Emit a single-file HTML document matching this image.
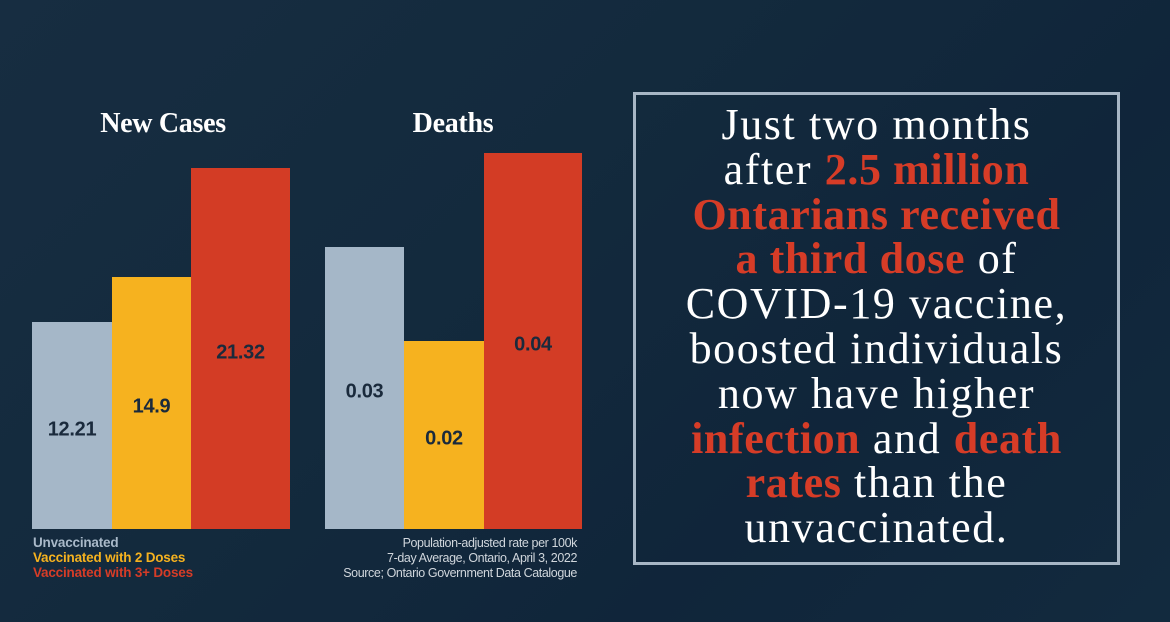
<!DOCTYPE html>
<html><head><meta charset="utf-8">
<style>
html,body{margin:0;padding:0}
body{width:1170px;height:622px;overflow:hidden;position:relative;
background:linear-gradient(135deg,#172d41 0%,#132a3d 40%,#10253a 70%,#122a3e 100%);
font-family:"Liberation Sans",sans-serif}
.title{position:absolute;top:108px;font-family:"Liberation Serif",serif;font-weight:bold;color:#fff;font-size:28px;text-align:center;width:260px;letter-spacing:-0.3px}
.lbl{position:absolute;font-weight:bold;color:#1a2a3c;font-size:20px;transform:translate(-50%,-50%);white-space:nowrap;letter-spacing:-0.3px}
.bar{position:absolute}
.legend{position:absolute;left:33px;top:535px;font-weight:bold;font-size:13.5px;line-height:15px;letter-spacing:-0.2px}
.note{position:absolute;right:593px;top:536px;color:#d0d6dc;font-size:12.5px;line-height:15px;text-align:right;letter-spacing:-0.4px}
.box{position:absolute;left:633px;top:92px;width:481px;height:467px;border:3px solid #a7b6c5;box-sizing:content-box}
.txt{position:absolute;left:636px;top:103px;width:481px;text-align:center;font-family:"Liberation Serif",serif;font-size:44px;line-height:44.8px;color:#fff;letter-spacing:1.6px;white-space:nowrap}
.r{color:#d63c27;font-weight:bold;letter-spacing:0.6px}
</style></head><body>
<div class="title" style="left:33px">New Cases</div>
<div class="title" style="left:323px">Deaths</div>
<div id="charts"></div>
<div class="legend">
<div style="color:#a9b9c9">Unvaccinated</div>
<div style="color:#f6b21f">Vaccinated with 2 Doses</div>
<div style="color:#d63c27">Vaccinated with 3+ Doses</div>
</div>
<div class="note">Population-adjusted rate per 100k<br>7-day Average, Ontario, April 3, 2022<br>Source; Ontario Government Data Catalogue</div>
<div class="box"></div>
<div class="txt">Just two months<br>after <span class="r">2.5 million</span><br><span class="r">Ontarians received</span><br><span class="r">a third dose</span> of<br>COVID-19 vaccine,<br>boosted individuals<br>now have higher<br><span class="r">infection</span> and <span class="r">death</span><br><span class="r">rates</span> than the<br>unvaccinated.</div>
<script>
const groups = ["Unvaccinated","Vaccinated with 2 Doses","Vaccinated with 3+ Doses"];
const caseValues = [12.21, 14.9, 21.32];
const caseLabels = ["12.21","14.9","21.32"];
const deathValues = [0.03, 0.02, 0.04];
const deathLabels = ["0.03","0.02","0.04"];
const colors = ["#a5b7c8","#f6b21f","#d33c25"];
const baseY = 529;
function yCases(v){ return baseY - v*16.93; }
function yDeaths(v){ return baseY - v*9400; }
function draw(vals, labels, edges, yf, name){
  const c = document.getElementById('charts');
  vals.forEach((v,i)=>{
    const top = yf(v);
    const b = document.createElement('div');
    b.className='bar';
    
    
    b.style.left=edges[i]+'px'; b.style.width=(edges[i+1]-edges[i])+'px';
    b.style.top=top+'px'; b.style.height=(baseY-top)+'px';
    b.style.background=colors[i];
    c.appendChild(b);
    const l = document.createElement('div');
    l.className='lbl';
    
    
    l.textContent=labels[i];
    l.style.left=((edges[i]+edges[i+1])/2)+'px';
    l.style.top=((top+baseY)/2+4)+'px';
    c.appendChild(l);
  });
}
draw(caseValues, caseLabels, [32,112,191,290], yCases, 'cases');
draw(deathValues, deathLabels, [325,404,484,582], yDeaths, 'deaths');
</script>
</body></html>
